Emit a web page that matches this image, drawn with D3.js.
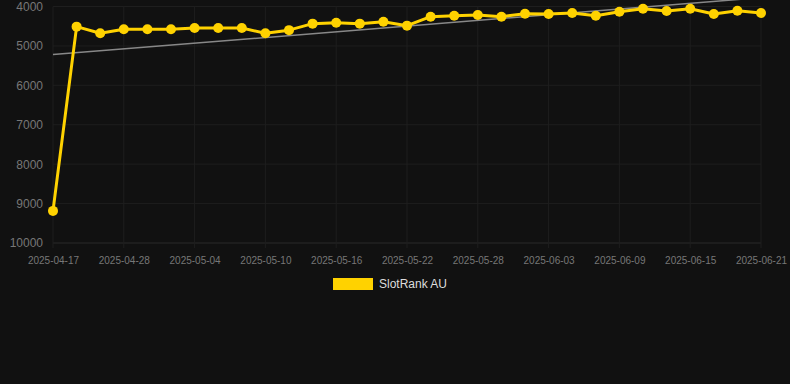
<!DOCTYPE html>
<html>
<head>
<meta charset="utf-8">
<script src="https://cdn.jsdelivr.net/npm/d3@7"></script>
<style>
  html, body { margin: 0; padding: 0; background: #111111; }
  svg { display: block; font-family: "Liberation Sans", Arial, Helvetica, sans-serif; }
</style>
</head>
<body>
<svg id="chart"></svg>
<script>
var width = 790;
var height = 384;

// data
var dates = ["2025-04-17", "2025-04-22", "2025-04-26", "2025-04-28", "2025-04-30", "2025-05-02",
  "2025-05-04", "2025-05-06", "2025-05-08", "2025-05-10", "2025-05-12", "2025-05-14",
  "2025-05-16", "2025-05-18", "2025-05-20", "2025-05-22", "2025-05-24", "2025-05-26",
  "2025-05-28", "2025-05-30", "2025-06-01", "2025-06-03", "2025-06-05", "2025-06-07",
  "2025-06-09", "2025-06-11", "2025-06-13", "2025-06-15", "2025-06-17", "2025-06-19",
  "2025-06-21"];
var ranks = [9185, 4511, 4680, 4577, 4577, 4577, 4544, 4544, 4544, 4680, 4600, 4435,
  4410, 4435, 4385, 4486, 4258, 4233, 4215, 4258, 4182, 4190, 4165, 4233,
  4131, 4055, 4114, 4055, 4190, 4106, 4165];
var trendEnds = [5220, 3775];
var yTicks = [4000, 5000, 6000, 7000, 8000, 9000, 10000];
var xTickLabels = ["2025-04-17", "2025-04-28", "2025-05-04", "2025-05-10", "2025-05-16",
  "2025-05-22", "2025-05-28", "2025-06-03", "2025-06-09", "2025-06-15", "2025-06-21"];
var seriesName = "SlotRank AU";

var gold = "#ffd200";

var svg = d3.select("#chart")
    .attr("width", width)
    .attr("height", height);

var plotLeft = 53, plotRight = 761, plotTop = 6.5, plotBottom = 243;

var x = d3.scalePoint()
    .domain(dates)
    .range([plotLeft, plotRight]);

var y = d3.scaleLinear()
    .domain([4000, 10000])
    .range([plotTop, plotBottom]);

// grid
var grid = svg.append("g").attr("class", "grid");
grid.selectAll("line.h")
    .data(yTicks)
  .enter().append("line")
    .attr("x1", plotLeft)
    .attr("x2", plotRight)
    .attr("y1", function(d) { return y(d); })
    .attr("y2", function(d) { return y(d); })
    .attr("stroke", function(d) { return d === 10000 ? "#2a2a2a" : "#1e1e1e"; })
    .attr("stroke-width", 1);

grid.selectAll("line.v")
    .data(xTickLabels)
  .enter().append("line")
    .attr("x1", function(d) { return x(d); })
    .attr("x2", function(d) { return x(d); })
    .attr("y1", plotTop)
    .attr("y2", plotBottom + 5)
    .attr("stroke", "#1e1e1e")
    .attr("stroke-width", 1);

// y axis labels
var yAxis = d3.axisLeft(y).tickValues(yTicks).tickSize(0).tickPadding(0).tickFormat(d3.format("d"));
svg.append("g")
    .attr("transform", "translate(" + (plotLeft - 10) + ",0)")
    .call(yAxis)
    .call(function(g) { g.select(".domain").remove(); })
    .selectAll("text")
      .attr("fill", "#777")
      .style("font-size", "12px");

// x axis labels
var xAxis = d3.axisBottom(x).tickValues(xTickLabels).tickSize(0).tickPadding(0);
svg.append("g")
    .attr("transform", "translate(0," + (plotBottom + 14) + ")")
    .call(xAxis)
    .call(function(g) { g.select(".domain").remove(); })
    .selectAll("text")
      .attr("fill", "#777")
      .style("font-size", "10px");

// trend line
svg.append("line")
    .attr("x1", x(dates[0]))
    .attr("y1", y(trendEnds[0]))
    .attr("x2", x(dates[dates.length - 1]))
    .attr("y2", y(trendEnds[1]))
    .attr("stroke", "#888")
    .attr("stroke-width", 1.5);

// series
var line = d3.line()
    .x(function(d, i) { return x(dates[i]); })
    .y(function(d) { return y(d); });

svg.append("path")
    .datum(ranks)
    .attr("fill", "none")
    .attr("stroke", gold)
    .attr("stroke-width", 3)
    .attr("stroke-linejoin", "round")
    .attr("d", line);

svg.append("g").selectAll("circle")
    .data(ranks)
  .enter().append("circle")
    .attr("cx", function(d, i) { return x(dates[i]); })
    .attr("cy", function(d) { return y(d); })
    .attr("r", 5)
    .attr("fill", gold);

// legend
var legend = svg.append("g");
legend.append("rect")
    .attr("x", 333)
    .attr("y", 278)
    .attr("width", 40)
    .attr("height", 12)
    .attr("fill", gold);
legend.append("text")
    .attr("x", 379)
    .attr("y", 284)
    .attr("dy", "0.35em")
    .attr("fill", "#ddd")
    .style("font-size", "12px")
    .text(seriesName);
</script>
</body>
</html>
